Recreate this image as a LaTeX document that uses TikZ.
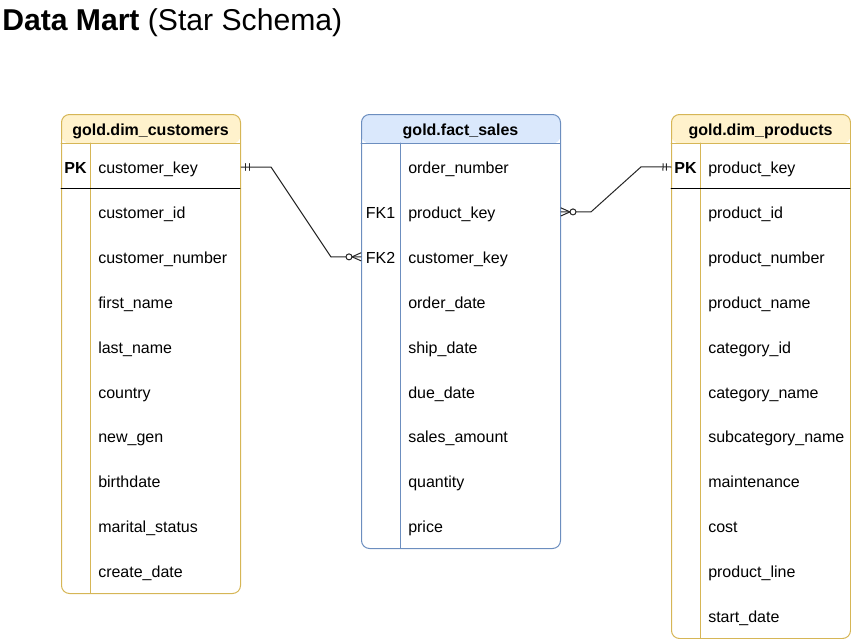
\documentclass[tikz,border=0pt]{standalone}
\usepackage{fontspec}
\setmainfont{Liberation Sans}
\usetikzlibrary{decorations.markings}
\definecolor{goldfill}{HTML}{FFF2CC}
\definecolor{goldline}{HTML}{D6B656}
\definecolor{bluefill}{HTML}{DAE8FC}
\definecolor{blueline}{HTML}{6C8EBF}
\tikzset{
  tbl/.style={draw=#1, line width=0.75pt, rounded corners=6pt, anchor=north west, inner sep=0pt},
  hdr/.style={path picture={\fill[#1] (path picture bounding box.north west) rectangle ([yshift=-21.75pt]path picture bounding box.north east);}},
  hdrtext/.style={font=\fontsize{12}{14}\selectfont\bfseries, inner sep=0pt, text height=13pt, text depth=3.25pt},
  field/.style={font=\fontsize{12}{14}\selectfont, anchor=west, inner sep=0pt, text height=13pt, text depth=3.25pt},
  keytext/.style={font=\fontsize{12}{14}\selectfont, inner sep=0pt, text height=13pt, text depth=3.25pt},
  rel/.style={draw=black!85, line width=0.75pt},
  one start/.style={postaction={decorate, decoration={markings, mark=at position 0 with {\draw[line width=0.75pt] (3.5pt,-2.5pt) -- (3.5pt,2.5pt) (6pt,-2.5pt) -- (6pt,2.5pt);}}}},
  one end/.style={postaction={decorate, decoration={markings, mark=at position 1 with {\draw[line width=0.75pt] (-3.5pt,-2.5pt) -- (-3.5pt,2.5pt) (-6pt,-2.5pt) -- (-6pt,2.5pt);}}}},
  many start/.style={postaction={decorate, decoration={markings, mark=at position 0 with {\draw[line width=0.75pt] (0,3pt) -- (6.75pt,0) -- (0,-3pt); \draw[line width=0.75pt, fill=white] (9pt,0) circle (2.25pt);}}}},
  many end/.style={postaction={decorate, decoration={markings, mark=at position 1 with {\draw[line width=0.75pt] (0,3pt) -- (-6.75pt,0) -- (0,-3pt); \draw[line width=0.75pt, fill=white] (-9pt,0) circle (2.25pt);}}}}
}
\begin{document}
\begin{tikzpicture}[x=0.75pt,y=-0.75pt,line cap=round,line join=round]
  \useasboundingbox (0,0) rectangle (851,639);
  % title
  \node[anchor=base west, inner sep=0pt, font=\fontsize{22.6}{26}\selectfont] (title) at (2,31) {\textbf{Data Mart} (Star Schema)};

  % tables
  \node[tbl=goldline, hdr=goldfill, minimum width=134.25pt, minimum height=359.25pt] (cust) at (61,114) {};
  \node[tbl=blueline, hdr=bluefill, minimum width=149.25pt, minimum height=325.5pt] (fact) at (361,114) {};
  \node[tbl=goldline, hdr=goldfill, minimum width=134.25pt, minimum height=393pt] (prod) at (671,114) {};

  \draw[goldline, line width=0.75pt] (61,143) -- (240,143) (90,143) -- (90,593);
  \draw[blueline, line width=0.75pt] (361,143) -- (560,143) (400,143) -- (400,548);
  \draw[goldline, line width=0.75pt] (671,143) -- (850,143) (700,143) -- (700,638);
  \draw[line width=0.75pt] (61,188) -- (240,188) (671,188) -- (850,188);

  \node[hdrtext] (cust-h) at (150.5,128.5) {gold.dim\_customers};
  \node[hdrtext] (fact-h) at (460.5,128.5) {gold.fact\_sales};
  \node[hdrtext] (prod-h) at (760.5,128.5) {gold.dim\_products};

  % fields
  \foreach \f [count=\i from 0] in {customer\_key,customer\_id,customer\_number,first\_name,last\_name,country,new\_gen,birthdate,marital\_status,create\_date}
    \node[field] (c\i) at (98,{167+44.9*\i}) {\f};
  \foreach \f [count=\i from 0] in {order\_number,product\_key,customer\_key,order\_date,ship\_date,due\_date,sales\_amount,quantity,price}
    \node[field] (f\i) at (408,{167+44.9*\i}) {\f};
  \foreach \f [count=\i from 0] in {product\_key,product\_id,product\_number,product\_name,category\_id,category\_name,subcategory\_name,maintenance,cost,product\_line,start\_date}
    \node[field] (p\i) at (708,{167+44.9*\i}) {\f};

  % keys
  \node[keytext, font=\fontsize{12}{14}\selectfont\bfseries] (c-pk) at (75.5,167) {PK};
  \node[keytext] (f-fk1) at (380.5,212) {FK1};
  \node[keytext] (f-fk2) at (380.5,257) {FK2};
  \node[keytext, font=\fontsize{12}{14}\selectfont\bfseries] (p-pk) at (685.5,167) {PK};

  % relations
  \draw[rel, one start, many end] (cust.east |- c0) -- ++(30,0) -- ++(60,90) -- (fact.west |- f2);
  \draw[rel, many start, one end] (fact.east |- f1) -- ++(30,0) -- ++(50,-45) -- (prod.west |- p0);
\end{tikzpicture}
\end{document}
